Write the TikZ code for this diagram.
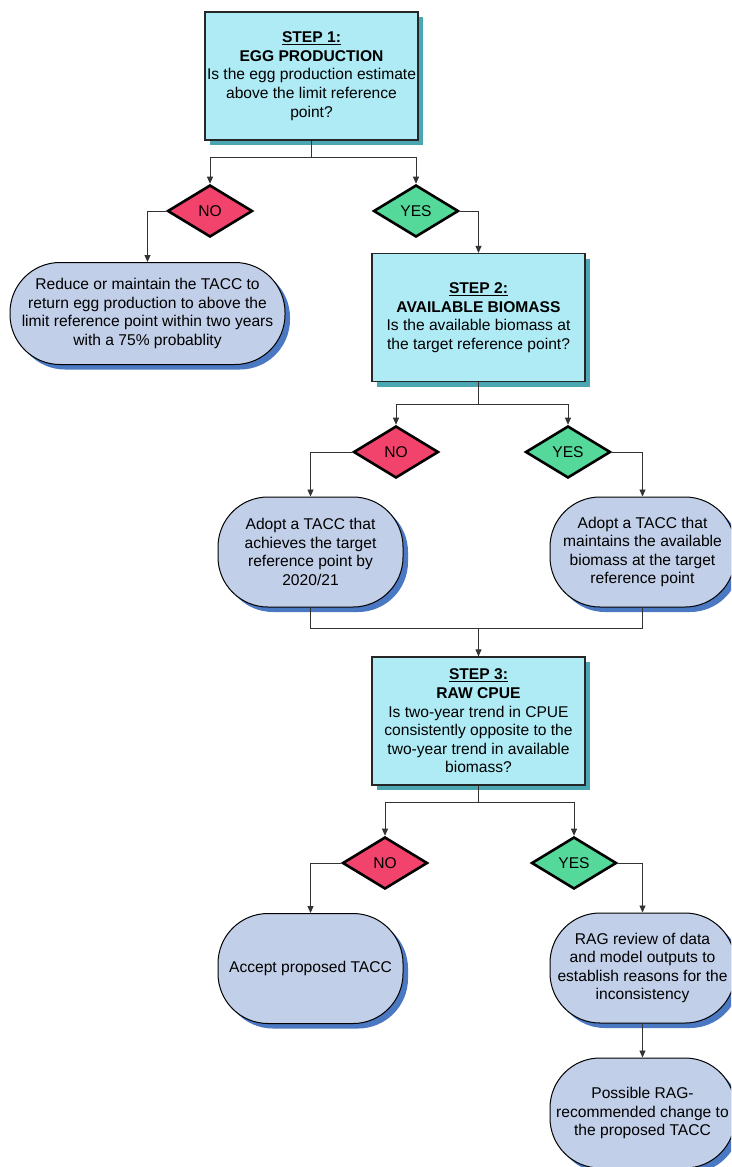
\documentclass[tikz,border=0pt]{standalone}
\usepackage{fontspec}
\setmainfont{Liberation Sans}
\usetikzlibrary{shapes.geometric,shadows,arrows.meta}
\definecolor{boxfill}{HTML}{AEEBF5}
\definecolor{boxshadow}{HTML}{4AA6B0}
\definecolor{nofill}{HTML}{F2436C}
\definecolor{yesfill}{HTML}{55D99A}
\definecolor{termfill}{HTML}{C2CFE8}
\definecolor{termshadow}{HTML}{4A78C2}
\definecolor{linecol}{HTML}{333333}
\begin{document}
\begin{tikzpicture}[x=1pt,y=-1pt,
  every node/.style={font=\fontsize{15.6}{18.6}\selectfont, align=center, inner sep=0pt},
  stepbox/.style={draw=black!85, line width=1.2pt, fill=boxfill, minimum width=213pt, minimum height=128pt,
    general shadow={fill=boxshadow, shadow xshift=5pt, shadow yshift=-5pt}},
  termbox/.style={draw=black, line width=1pt, fill=termfill, rounded corners=50pt, minimum width=185pt, minimum height=110pt,
    general shadow={fill=termshadow, shadow xshift=5pt, shadow yshift=-5pt}},
  decno/.style={diamond, draw=black, line width=2.6pt, fill=nofill, minimum width=85pt, minimum height=52pt},
  decyes/.style={diamond, draw=black, line width=2.6pt, fill=yesfill, minimum width=85pt, minimum height=52pt},
  ln/.style={draw=linecol, line width=0.9pt},
  arr/.style={draw=linecol, line width=0.9pt, -{Triangle[length=7pt,width=6pt]}}
]
\useasboundingbox (0,0) rectangle (731,1167);
\clip (0,0) rectangle (731,1167);

% Step 1
\node[stepbox] (s1) at (311.5,76) {\textbf{\underline{STEP 1:}}\\ \textbf{EGG PRODUCTION}\\ Is the egg production estimate\\ above the limit reference\\ point?};
\node[decno] (no1) at (210,211) {NO};
\node[decyes] (yes1) at (416,211) {YES};
\node[termbox, minimum width=275pt, minimum height=102pt] (r1) at (147.5,313.5) {Reduce or maintain the TACC to\\ return egg production to above the\\ limit reference point within two years\\ with a 75\% probablity};

% Step 2
\node[stepbox] (s2) at (478.5,317.5) {\textbf{\underline{STEP 2:}}\\ \textbf{AVAILABLE BIOMASS}\\ Is the available biomass at\\ the target reference point?};
\node[decno] (no2) at (396,452) {NO};
\node[decyes] (yes2) at (568,452) {YES};
\node[termbox] (a1) at (310.5,552) {Adopt a TACC that\\ achieves the target\\ reference point by\\ 2020/21};
\node[termbox] (a2) at (642.5,552) {Adopt a TACC that\\ maintains the available\\ biomass at the target\\ reference point};

% Step 3
\node[stepbox] (s3) at (478.5,721) {\textbf{\underline{STEP 3:}}\\ \textbf{RAW CPUE}\\ Is two-year trend in CPUE\\ consistently opposite to the\\ two-year trend in available\\ biomass?};
\node[decno] (no3) at (385,863) {NO};
\node[decyes] (yes3) at (574,863) {YES};
\node[termbox] (c1) at (310.5,968.5) {Accept proposed TACC};
\node[termbox] (c2) at (642.5,968) {RAG review of data\\ and model outputs to\\ establish reasons for the\\ inconsistency};
\node[termbox] (c3) at (642.5,1113) {Possible RAG-\\ recommended change to\\ the proposed TACC};

% junctions
\coordinate (j1) at (311.5,157);
\coordinate (j2) at (478.5,404);
\coordinate (j3) at (478.5,628);
\coordinate (j4) at (478.5,802);

% connectors
\draw[ln] (s1.south) -- (j1);
\draw[arr] (j1) -| (no1.north);
\draw[arr] (j1) -| (yes1.north);
\draw[arr] (no1.west) -| (r1.north);
\draw[arr] (yes1.east) -| (s2.north);

\draw[ln] (s2.south) -- (j2);
\draw[arr] (j2) -| (no2.north);
\draw[arr] (j2) -| (yes2.north);
\draw[arr] (no2.west) -| (a1.north);
\draw[arr] (yes2.east) -| (a2.north);
\draw[ln] (a1.south) |- (j3);
\draw[ln] (a2.south) |- (j3);
\draw[arr] (j3) -- (s3.north);

\draw[ln] (s3.south) -- (j4);
\draw[arr] (j4) -| (no3.north);
\draw[arr] (j4) -| (yes3.north);
\draw[arr] (no3.west) -| (c1.north);
\draw[arr] (yes3.east) -| (c2.north);
\draw[arr] (c2.south) -- (c3.north);
\end{tikzpicture}
\end{document}
